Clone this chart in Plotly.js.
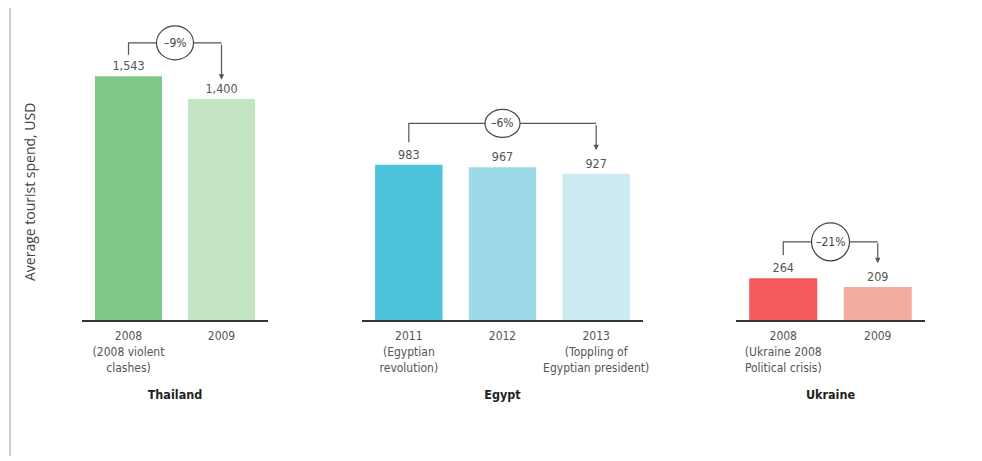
<!DOCTYPE html>
<html>
<head>
<meta charset="utf-8">
<script src="https://cdn.plot.ly/plotly-3.0.1.min.js"></script>
<style>html,body{margin:0;padding:0;background:#fff;}#chart{width:982px;height:461px;}</style>
</head>
<body>
<div id="chart"></div>
<script>
// ---- data ----
const countries = ["Thailand", "Egypt", "Ukraine"];
const thailandLabels = ["2008<br>(2008 violent<br>clashes)", "2009"];
const thailandValues = [1543, 1400];
const egyptLabels = ["2011<br>(Egyptian<br>revolution)", "2012", "2013<br>(Toppling of<br>Egyptian president)"];
const egyptValues = [983, 967, 927];
const ukraineLabels = ["2008<br>(Ukraine 2008<br>Political crisis)", "2009"];
const ukraineValues = [264, 209];
const changeLabels = ["–9%", "–6%", "–21%"];
const yTitle = "Average tourist spend, USD";

// ---- styles ----
const thailandColors = ["#7ec987", "#c3e5c3"];
const egyptColors = ["#4cc3da", "#9ed9e8", "#cdeaf3"];
const ukraineColors = ["#f25a5e", "#f4aba0"];
const narrow = "Liberation Sans Narrow, Arial Narrow, DejaVu Sans Condensed, sans-serif";
const W = 982;
const domains = [[82 / W, 268 / W], [362 / W, 643 / W], [736 / W, 925 / W]];
// bracket geometry in value units: [bracket level, left leg end, arrow tip]
const bracketGeom = [[1755, 1680, 1522], [1245, 1125, 1075], [495, 410, 360]];
const circleSize = [[37, 34], [35, 28], [38, 38]];

const groups = [
  {labels: thailandLabels, values: thailandValues, colors: thailandColors, xa: "x", xl: "xaxis"},
  {labels: egyptLabels, values: egyptValues, colors: egyptColors, xa: "x2", xl: "xaxis2"},
  {labels: ukraineLabels, values: ukraineValues, colors: ukraineColors, xa: "x3", xl: "xaxis3"}
];

const traces = [];
const shapes = [];
const annotations = [];
const layout = {
  width: 982, height: 461,
  margin: {l: 0, r: 0, t: 20, b: 141, pad: 0},
  paper_bgcolor: "#ffffff", plot_bgcolor: "#ffffff",
  showlegend: false,
  bargap: 0.28,
  yaxis: {range: [0, 1900], visible: false, fixedrange: true}
};

groups.forEach((g, i) => {
  const xs = g.values.map((v, k) => k);
  traces.push({
    type: "bar", x: xs, y: g.values, xaxis: g.xa, yaxis: "y",
    marker: {color: g.colors, line: {width: 0}},
    text: g.values.map(v => v.toLocaleString("en-US")),
    textposition: "outside", cliponaxis: false,
    textfont: {family: narrow, size: 12.5, color: "#555"},
    hoverinfo: "x+y"
  });
  layout[g.xl] = {
    domain: domains[i], anchor: "y",
    range: [-0.5, g.values.length - 0.5],
    tickmode: "array", tickvals: xs, ticktext: g.labels,
    ticks: "", ticklabelstandoff: 4, showgrid: false, zeroline: false,
    showline: true, linecolor: "#333", linewidth: 2,
    tickfont: {family: narrow, size: 12, color: "#555"},
    title: {text: "<b>" + countries[i] + "</b>", standoff: 17,
            font: {family: narrow, size: 12.5, color: "#222"}},
    fixedrange: true
  };
  const [lvl, leg, tip] = bracketGeom[i];
  const last = g.values.length - 1;
  const mid = last / 2;
  shapes.push({
    type: "path", xref: g.xa, yref: "y",
    path: `M 0 ${leg} L 0 ${lvl} L ${last} ${lvl}`,
    line: {color: "#555", width: 1.2}
  });
  shapes.push({
    type: "circle", xref: g.xa, yref: "y",
    xsizemode: "pixel", ysizemode: "pixel",
    xanchor: mid, yanchor: lvl,
    x0: -circleSize[i][0] / 2, x1: circleSize[i][0] / 2,
    y0: -circleSize[i][1] / 2, y1: circleSize[i][1] / 2,
    fillcolor: "#ffffff", line: {color: "#444", width: 1.2}
  });
  annotations.push({
    xref: g.xa, yref: "y", x: mid, y: lvl, text: changeLabels[i],
    showarrow: false, font: {family: narrow, size: 12, color: "#444"}
  });
  annotations.push({
    xref: g.xa, yref: "y", x: last, y: tip, axref: g.xa, ayref: "y", ax: last, ay: lvl,
    text: "", showarrow: true, arrowhead: 2, arrowsize: 0.9, arrowwidth: 1.2, arrowcolor: "#555"
  });
});

// y-axis title
annotations.push({
  xref: "paper", yref: "paper", x: 30 / W, y: (320 - 192) / 300,
  xanchor: "center", yanchor: "middle",
  text: yTitle, textangle: -90, showarrow: false,
  font: {family: "Open Sans, sans-serif", size: 14, color: "#444"}
});
// left rule
shapes.push({
  type: "line", xref: "paper", yref: "paper",
  x0: 10 / W, x1: 10 / W, y0: (320 - 8) / 300, y1: (320 - 456) / 300,
  line: {color: "#cfcfcf", width: 2}
});

layout.shapes = shapes;
layout.annotations = annotations;
Plotly.newPlot("chart", traces, layout, {displayModeBar: false, staticPlot: true});
</script>
</body>
</html>
